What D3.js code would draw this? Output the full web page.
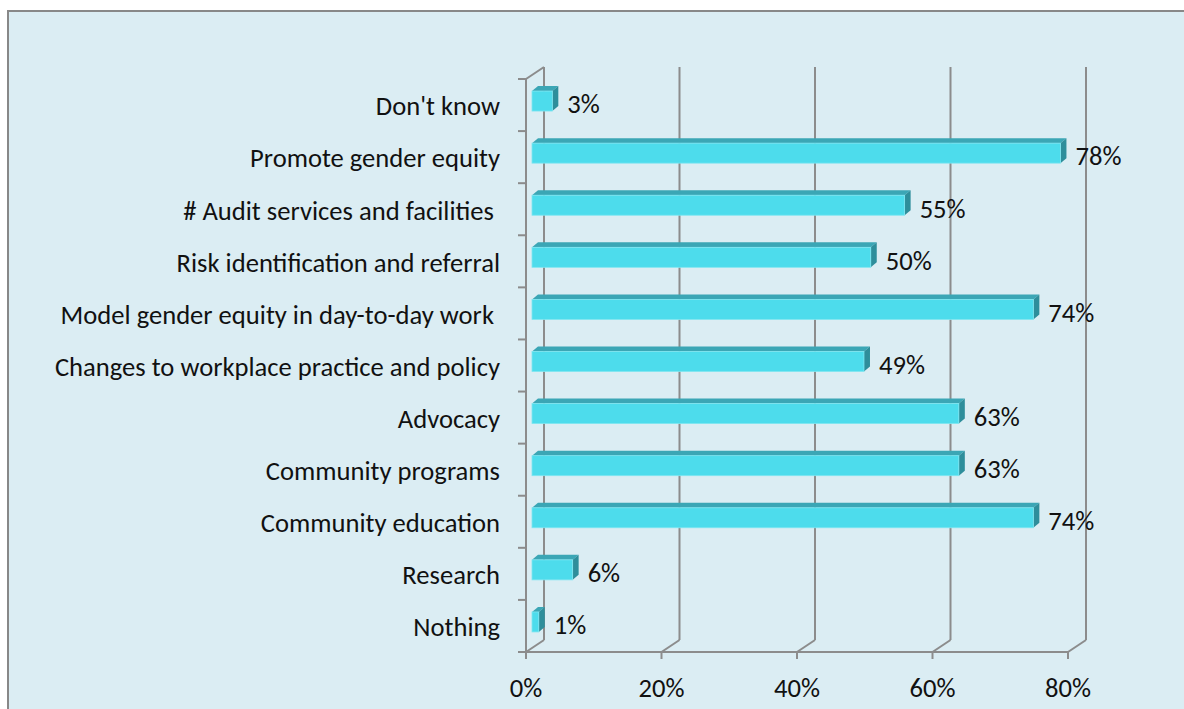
<!DOCTYPE html>
<html>
<head>
<meta charset="utf-8">
<script src="https://cdn.jsdelivr.net/npm/d3@7"></script>
<style>
  html, body { margin: 0; padding: 0; background: #fff; }
  svg { display: block; }
  text { font-family: Carlito, Lato, "Open Sans", sans-serif; fill: #111; }
</style>
</head>
<body>
<svg id="chart" width="1184" height="709"></svg>
<script>
// Survey responses, listed from top row to bottom row
const categories = [
  "Don't know",
  "Promote gender equity",
  "# Audit services and facilities ",
  "Risk identification and referral",
  "Model gender equity in day-to-day work ",
  "Changes to workplace practice and policy",
  "Advocacy",
  "Community programs",
  "Community education",
  "Research",
  "Nothing"
];
const values = [3, 78, 55, 50, 74, 49, 63, 63, 74, 6, 1];
const xTicks = [0, 20, 40, 60, 80];

(function draw() {
  const svg = d3.select("#chart");
  const W = 1184, H = 709;
  const fontSize = 26.6;

  // panel background and frame
  svg.append("rect").attr("x", 0).attr("y", 0).attr("width", W).attr("height", H).attr("fill", "#fff");
  svg.append("rect").attr("x", 8).attr("y", 11).attr("width", W + 10).attr("height", H + 10)
    .attr("fill", "#dbedf3").attr("stroke", "#888").attr("stroke-width", 2);

  // front plane of the plot and the 3D depth offset of the back wall
  const plotLeft = 526, plotRight = 1068, plotTop = 79, plotBottom = 652;
  const depthX = 18, depthY = -12;
  // bars sit partway into the depth
  const barDX = 6, barDY = -5, barOffX = 6, barOffY = -4, barH = 20;

  const x = d3.scaleLinear().domain([0, 80]).range([plotLeft, plotRight]);
  const y = d3.scaleBand().domain(categories).range([plotTop, plotBottom]).padding(0);

  const gridColor = "#8c8c8c";
  const grid = svg.append("g").attr("stroke", gridColor).attr("stroke-width", 2).attr("fill", "none");

  // left wall: front axis, back edge, top diagonal
  grid.append("line").attr("x1", plotLeft).attr("y1", plotTop).attr("x2", plotLeft).attr("y2", plotBottom);
  grid.append("line").attr("x1", plotLeft + depthX).attr("y1", plotTop + depthY).attr("x2", plotLeft + depthX).attr("y2", plotBottom + depthY);
  grid.append("line").attr("x1", plotLeft).attr("y1", plotTop).attr("x2", plotLeft + depthX).attr("y2", plotTop + depthY);

  // bottom axis line
  grid.append("line").attr("x1", plotLeft).attr("y1", plotBottom).attr("x2", plotRight).attr("y2", plotBottom);

  // vertical gridlines on the back wall with their floor diagonals
  xTicks.forEach(t => {
    const xv = x(t);
    grid.append("line").attr("x1", xv + depthX).attr("y1", plotTop + depthY).attr("x2", xv + depthX).attr("y2", plotBottom + depthY);
    grid.append("line").attr("x1", xv).attr("y1", plotBottom).attr("x2", xv + depthX).attr("y2", plotBottom + depthY);
    grid.append("line").attr("x1", xv).attr("y1", plotBottom).attr("x2", xv).attr("y2", plotBottom + 7);
  });

  // category tick marks on the front vertical axis
  const bounds = categories.map(c => y(c)).concat([plotBottom]);
  bounds.forEach(b => {
    grid.append("line").attr("x1", plotLeft - 8).attr("y1", b).attr("x2", plotLeft).attr("y2", b);
  });

  // bars drawn as three faces: top, side, front
  const bars = svg.append("g");
  categories.forEach((c, i) => {
    const v = values[i];
    const cy = y(c) + y.bandwidth() / 2;
    const x0 = x(0) + barOffX, x1 = x(v) + barOffX;
    const y0 = cy + barOffY - barH / 2, y1 = y0 + barH;
    bars.append("path")
      .attr("d", `M${x0},${y0} L${x0 + barDX},${y0 + barDY} L${x1 + barDX},${y0 + barDY} L${x1},${y0} Z`)
      .attr("fill", "#3ba6b5");
    bars.append("path")
      .attr("d", `M${x1},${y0} L${x1 + barDX},${y0 + barDY} L${x1 + barDX},${y1 + barDY} L${x1},${y1} Z`)
      .attr("fill", "#2e8e9b");
    bars.append("rect")
      .attr("x", x0).attr("y", y0).attr("width", x1 - x0).attr("height", barH)
      .attr("fill", "#4ddcec").attr("stroke", "#7fe6f1").attr("stroke-width", 0.8);

    // value label
    svg.append("text")
      .attr("x", x1 + 15).attr("y", cy - 1)
      .attr("dy", "0.35em")
      .attr("font-size", fontSize)
      .text(v + "%");

    // category label
    svg.append("text")
      .attr("x", 500).attr("y", cy + 1)
      .attr("dy", "0.35em")
      .attr("text-anchor", "end")
      .attr("font-size", fontSize)
      .attr("xml:space", "preserve")
      .text(c);
  });

  // x tick labels
  xTicks.forEach(t => {
    svg.append("text")
      .attr("x", x(t)).attr("y", 688)
      .attr("dy", "0.35em")
      .attr("text-anchor", "middle")
      .attr("font-size", fontSize)
      .text(t + "%");
  });
})();
</script>
</body>
</html>
